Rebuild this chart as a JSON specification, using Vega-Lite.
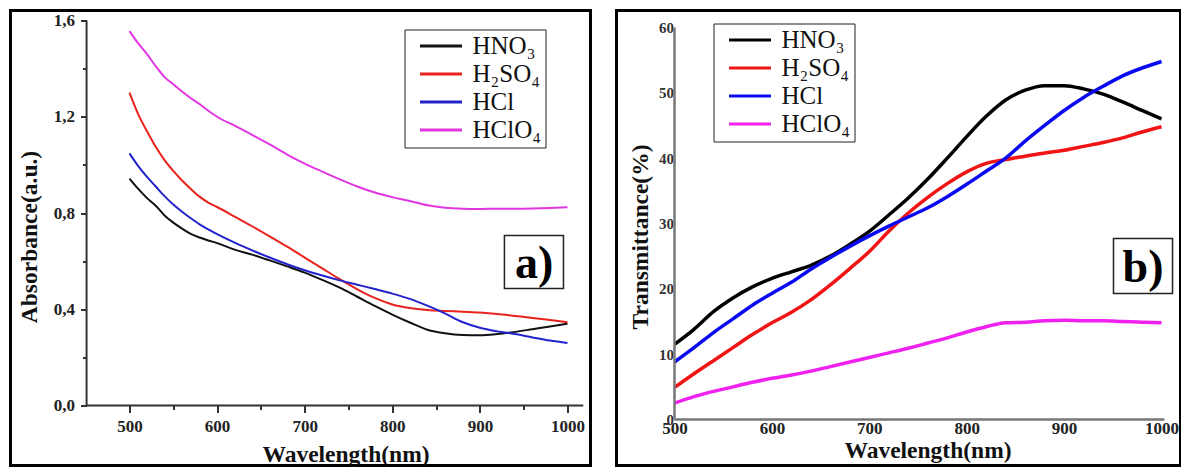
{
  "$schema": "https://vega.github.io/schema/vega-lite/v6.json",
  "padding": {"left": 8.5, "top": 8.5, "right": 0, "bottom": 0},
  "spacing": 22,
  "config": {
    "view": {"stroke": "#000000", "strokeWidth": 3},
    "font": "Liberation Serif",
    "axis": {"domain": false, "grid": false, "labelFont": "Liberation Serif", "labelFontWeight": "bold", "titleFont": "Liberation Serif", "titleFontWeight": "bold", "titleFontSize": 23.5, "titleColor": "#111111", "tickColor": "#333333", "tickWidth": 2},
    "legend": {"orient": "none", "title": null, "symbolType": "M-2,0H2", "symbolSize": 441, "symbolStrokeWidth": 3, "symbolFillColor": "transparent", "labelFontSize": 25, "labelFont": "Liberation Serif", "labelColor": "#111111", "rowPadding": 2, "labelOffset": 19, "padding": 4, "symbolOffset": 20, "strokeColor": "#222222", "fillColor": "white", "labelLimit": 300}
  },
  "datasets": {
    "abs": [
      {"acid": "HNO₃", "wl": 500, "v": 0.943}, {"acid": "HNO₃", "wl": 510, "v": 0.9}, {"acid": "HNO₃", "wl": 520, "v": 0.862}, {"acid": "HNO₃", "wl": 530, "v": 0.83}, {"acid": "HNO₃", "wl": 540, "v": 0.79}, {"acid": "HNO₃", "wl": 550, "v": 0.76}, {"acid": "HNO₃", "wl": 560, "v": 0.735}, {"acid": "HNO₃", "wl": 570, "v": 0.713}, {"acid": "HNO₃", "wl": 580, "v": 0.698}, {"acid": "HNO₃", "wl": 590, "v": 0.686}, {"acid": "HNO₃", "wl": 600, "v": 0.675}, {"acid": "HNO₃", "wl": 620, "v": 0.648}, {"acid": "HNO₃", "wl": 640, "v": 0.627}, {"acid": "HNO₃", "wl": 660, "v": 0.603}, {"acid": "HNO₃", "wl": 680, "v": 0.578}, {"acid": "HNO₃", "wl": 700, "v": 0.552}, {"acid": "HNO₃", "wl": 720, "v": 0.522}, {"acid": "HNO₃", "wl": 740, "v": 0.49}, {"acid": "HNO₃", "wl": 760, "v": 0.452}, {"acid": "HNO₃", "wl": 780, "v": 0.414}, {"acid": "HNO₃", "wl": 800, "v": 0.378}, {"acid": "HNO₃", "wl": 820, "v": 0.345}, {"acid": "HNO₃", "wl": 840, "v": 0.315}, {"acid": "HNO₃", "wl": 860, "v": 0.3}, {"acid": "HNO₃", "wl": 880, "v": 0.293}, {"acid": "HNO₃", "wl": 900, "v": 0.292}, {"acid": "HNO₃", "wl": 920, "v": 0.297}, {"acid": "HNO₃", "wl": 940, "v": 0.306}, {"acid": "HNO₃", "wl": 960, "v": 0.317}, {"acid": "HNO₃", "wl": 980, "v": 0.328}, {"acid": "HNO₃", "wl": 1000, "v": 0.34},
      {"acid": "H₂SO₄", "wl": 500, "v": 1.3}, {"acid": "H₂SO₄", "wl": 510, "v": 1.21}, {"acid": "H₂SO₄", "wl": 520, "v": 1.14}, {"acid": "H₂SO₄", "wl": 530, "v": 1.075}, {"acid": "H₂SO₄", "wl": 540, "v": 1.02}, {"acid": "H₂SO₄", "wl": 550, "v": 0.975}, {"acid": "H₂SO₄", "wl": 560, "v": 0.935}, {"acid": "H₂SO₄", "wl": 570, "v": 0.9}, {"acid": "H₂SO₄", "wl": 580, "v": 0.868}, {"acid": "H₂SO₄", "wl": 590, "v": 0.843}, {"acid": "H₂SO₄", "wl": 600, "v": 0.825}, {"acid": "H₂SO₄", "wl": 620, "v": 0.785}, {"acid": "H₂SO₄", "wl": 640, "v": 0.745}, {"acid": "H₂SO₄", "wl": 660, "v": 0.703}, {"acid": "H₂SO₄", "wl": 680, "v": 0.66}, {"acid": "H₂SO₄", "wl": 700, "v": 0.615}, {"acid": "H₂SO₄", "wl": 720, "v": 0.57}, {"acid": "H₂SO₄", "wl": 740, "v": 0.525}, {"acid": "H₂SO₄", "wl": 760, "v": 0.483}, {"acid": "H₂SO₄", "wl": 780, "v": 0.447}, {"acid": "H₂SO₄", "wl": 800, "v": 0.42}, {"acid": "H₂SO₄", "wl": 820, "v": 0.405}, {"acid": "H₂SO₄", "wl": 840, "v": 0.397}, {"acid": "H₂SO₄", "wl": 860, "v": 0.393}, {"acid": "H₂SO₄", "wl": 880, "v": 0.39}, {"acid": "H₂SO₄", "wl": 900, "v": 0.386}, {"acid": "H₂SO₄", "wl": 920, "v": 0.38}, {"acid": "H₂SO₄", "wl": 940, "v": 0.372}, {"acid": "H₂SO₄", "wl": 960, "v": 0.364}, {"acid": "H₂SO₄", "wl": 980, "v": 0.355}, {"acid": "H₂SO₄", "wl": 1000, "v": 0.346},
      {"acid": "HCl", "wl": 500, "v": 1.048}, {"acid": "HCl", "wl": 510, "v": 0.995}, {"acid": "HCl", "wl": 520, "v": 0.95}, {"acid": "HCl", "wl": 530, "v": 0.91}, {"acid": "HCl", "wl": 540, "v": 0.87}, {"acid": "HCl", "wl": 550, "v": 0.835}, {"acid": "HCl", "wl": 560, "v": 0.805}, {"acid": "HCl", "wl": 570, "v": 0.778}, {"acid": "HCl", "wl": 580, "v": 0.753}, {"acid": "HCl", "wl": 590, "v": 0.732}, {"acid": "HCl", "wl": 600, "v": 0.712}, {"acid": "HCl", "wl": 620, "v": 0.677}, {"acid": "HCl", "wl": 640, "v": 0.645}, {"acid": "HCl", "wl": 660, "v": 0.615}, {"acid": "HCl", "wl": 680, "v": 0.587}, {"acid": "HCl", "wl": 700, "v": 0.562}, {"acid": "HCl", "wl": 720, "v": 0.54}, {"acid": "HCl", "wl": 740, "v": 0.52}, {"acid": "HCl", "wl": 760, "v": 0.502}, {"acid": "HCl", "wl": 780, "v": 0.484}, {"acid": "HCl", "wl": 800, "v": 0.465}, {"acid": "HCl", "wl": 820, "v": 0.443}, {"acid": "HCl", "wl": 840, "v": 0.415}, {"acid": "HCl", "wl": 860, "v": 0.383}, {"acid": "HCl", "wl": 880, "v": 0.347}, {"acid": "HCl", "wl": 900, "v": 0.323}, {"acid": "HCl", "wl": 920, "v": 0.308}, {"acid": "HCl", "wl": 940, "v": 0.297}, {"acid": "HCl", "wl": 960, "v": 0.283}, {"acid": "HCl", "wl": 980, "v": 0.27}, {"acid": "HCl", "wl": 1000, "v": 0.26},
      {"acid": "HClO₄", "wl": 500, "v": 1.556}, {"acid": "HClO₄", "wl": 510, "v": 1.505}, {"acid": "HClO₄", "wl": 520, "v": 1.46}, {"acid": "HClO₄", "wl": 530, "v": 1.41}, {"acid": "HClO₄", "wl": 540, "v": 1.365}, {"acid": "HClO₄", "wl": 550, "v": 1.335}, {"acid": "HClO₄", "wl": 560, "v": 1.305}, {"acid": "HClO₄", "wl": 570, "v": 1.277}, {"acid": "HClO₄", "wl": 580, "v": 1.253}, {"acid": "HClO₄", "wl": 590, "v": 1.225}, {"acid": "HClO₄", "wl": 600, "v": 1.2}, {"acid": "HClO₄", "wl": 620, "v": 1.163}, {"acid": "HClO₄", "wl": 640, "v": 1.125}, {"acid": "HClO₄", "wl": 660, "v": 1.085}, {"acid": "HClO₄", "wl": 680, "v": 1.043}, {"acid": "HClO₄", "wl": 700, "v": 1.005}, {"acid": "HClO₄", "wl": 720, "v": 0.972}, {"acid": "HClO₄", "wl": 740, "v": 0.94}, {"acid": "HClO₄", "wl": 760, "v": 0.91}, {"acid": "HClO₄", "wl": 780, "v": 0.885}, {"acid": "HClO₄", "wl": 800, "v": 0.866}, {"acid": "HClO₄", "wl": 820, "v": 0.85}, {"acid": "HClO₄", "wl": 840, "v": 0.832}, {"acid": "HClO₄", "wl": 860, "v": 0.822}, {"acid": "HClO₄", "wl": 880, "v": 0.818}, {"acid": "HClO₄", "wl": 900, "v": 0.817}, {"acid": "HClO₄", "wl": 920, "v": 0.818}, {"acid": "HClO₄", "wl": 940, "v": 0.818}, {"acid": "HClO₄", "wl": 960, "v": 0.819}, {"acid": "HClO₄", "wl": 980, "v": 0.821}, {"acid": "HClO₄", "wl": 1000, "v": 0.824}
    ],
    "trans": [
      {"acid": "HNO₃", "wl": 500, "v": 11.5}, {"acid": "HNO₃", "wl": 520, "v": 13.8}, {"acid": "HNO₃", "wl": 540, "v": 16.5}, {"acid": "HNO₃", "wl": 560, "v": 18.6}, {"acid": "HNO₃", "wl": 580, "v": 20.3}, {"acid": "HNO₃", "wl": 600, "v": 21.6}, {"acid": "HNO₃", "wl": 620, "v": 22.6}, {"acid": "HNO₃", "wl": 640, "v": 23.6}, {"acid": "HNO₃", "wl": 660, "v": 25.0}, {"acid": "HNO₃", "wl": 680, "v": 26.8}, {"acid": "HNO₃", "wl": 700, "v": 28.8}, {"acid": "HNO₃", "wl": 720, "v": 31.3}, {"acid": "HNO₃", "wl": 740, "v": 33.9}, {"acid": "HNO₃", "wl": 760, "v": 36.8}, {"acid": "HNO₃", "wl": 780, "v": 40.0}, {"acid": "HNO₃", "wl": 800, "v": 43.3}, {"acid": "HNO₃", "wl": 820, "v": 46.4}, {"acid": "HNO₃", "wl": 840, "v": 48.9}, {"acid": "HNO₃", "wl": 860, "v": 50.4}, {"acid": "HNO₃", "wl": 880, "v": 51.1}, {"acid": "HNO₃", "wl": 900, "v": 51.1}, {"acid": "HNO₃", "wl": 920, "v": 50.6}, {"acid": "HNO₃", "wl": 940, "v": 49.8}, {"acid": "HNO₃", "wl": 960, "v": 48.6}, {"acid": "HNO₃", "wl": 980, "v": 47.3}, {"acid": "HNO₃", "wl": 1000, "v": 46.0},
      {"acid": "H₂SO₄", "wl": 500, "v": 4.9}, {"acid": "H₂SO₄", "wl": 520, "v": 7.0}, {"acid": "H₂SO₄", "wl": 540, "v": 9.0}, {"acid": "H₂SO₄", "wl": 560, "v": 11.0}, {"acid": "H₂SO₄", "wl": 580, "v": 13.0}, {"acid": "H₂SO₄", "wl": 600, "v": 14.8}, {"acid": "H₂SO₄", "wl": 620, "v": 16.4}, {"acid": "H₂SO₄", "wl": 640, "v": 18.3}, {"acid": "H₂SO₄", "wl": 660, "v": 20.6}, {"acid": "H₂SO₄", "wl": 680, "v": 23.1}, {"acid": "H₂SO₄", "wl": 700, "v": 25.7}, {"acid": "H₂SO₄", "wl": 720, "v": 28.8}, {"acid": "H₂SO₄", "wl": 740, "v": 31.6}, {"acid": "H₂SO₄", "wl": 760, "v": 34.0}, {"acid": "H₂SO₄", "wl": 780, "v": 36.1}, {"acid": "H₂SO₄", "wl": 800, "v": 37.9}, {"acid": "H₂SO₄", "wl": 820, "v": 39.2}, {"acid": "H₂SO₄", "wl": 840, "v": 39.8}, {"acid": "H₂SO₄", "wl": 860, "v": 40.3}, {"acid": "H₂SO₄", "wl": 880, "v": 40.8}, {"acid": "H₂SO₄", "wl": 900, "v": 41.2}, {"acid": "H₂SO₄", "wl": 920, "v": 41.8}, {"acid": "H₂SO₄", "wl": 940, "v": 42.4}, {"acid": "H₂SO₄", "wl": 960, "v": 43.1}, {"acid": "H₂SO₄", "wl": 980, "v": 44.0}, {"acid": "H₂SO₄", "wl": 1000, "v": 44.8},
      {"acid": "HCl", "wl": 500, "v": 8.8}, {"acid": "HCl", "wl": 520, "v": 11.0}, {"acid": "HCl", "wl": 540, "v": 13.3}, {"acid": "HCl", "wl": 560, "v": 15.4}, {"acid": "HCl", "wl": 580, "v": 17.5}, {"acid": "HCl", "wl": 600, "v": 19.3}, {"acid": "HCl", "wl": 620, "v": 21.0}, {"acid": "HCl", "wl": 640, "v": 23.0}, {"acid": "HCl", "wl": 660, "v": 24.8}, {"acid": "HCl", "wl": 680, "v": 26.5}, {"acid": "HCl", "wl": 700, "v": 28.1}, {"acid": "HCl", "wl": 720, "v": 29.6}, {"acid": "HCl", "wl": 740, "v": 31.0}, {"acid": "HCl", "wl": 760, "v": 32.4}, {"acid": "HCl", "wl": 780, "v": 34.1}, {"acid": "HCl", "wl": 800, "v": 36.0}, {"acid": "HCl", "wl": 820, "v": 38.0}, {"acid": "HCl", "wl": 840, "v": 40.0}, {"acid": "HCl", "wl": 860, "v": 42.6}, {"acid": "HCl", "wl": 880, "v": 45.0}, {"acid": "HCl", "wl": 900, "v": 47.3}, {"acid": "HCl", "wl": 920, "v": 49.3}, {"acid": "HCl", "wl": 940, "v": 51.0}, {"acid": "HCl", "wl": 960, "v": 52.6}, {"acid": "HCl", "wl": 980, "v": 53.8}, {"acid": "HCl", "wl": 1000, "v": 54.8},
      {"acid": "HClO₄", "wl": 500, "v": 2.5}, {"acid": "HClO₄", "wl": 520, "v": 3.5}, {"acid": "HClO₄", "wl": 540, "v": 4.3}, {"acid": "HClO₄", "wl": 560, "v": 5.0}, {"acid": "HClO₄", "wl": 580, "v": 5.7}, {"acid": "HClO₄", "wl": 600, "v": 6.3}, {"acid": "HClO₄", "wl": 620, "v": 6.8}, {"acid": "HClO₄", "wl": 640, "v": 7.4}, {"acid": "HClO₄", "wl": 660, "v": 8.1}, {"acid": "HClO₄", "wl": 680, "v": 8.8}, {"acid": "HClO₄", "wl": 700, "v": 9.5}, {"acid": "HClO₄", "wl": 720, "v": 10.2}, {"acid": "HClO₄", "wl": 740, "v": 10.9}, {"acid": "HClO₄", "wl": 760, "v": 11.7}, {"acid": "HClO₄", "wl": 780, "v": 12.5}, {"acid": "HClO₄", "wl": 800, "v": 13.4}, {"acid": "HClO₄", "wl": 820, "v": 14.2}, {"acid": "HClO₄", "wl": 840, "v": 14.8}, {"acid": "HClO₄", "wl": 860, "v": 14.9}, {"acid": "HClO₄", "wl": 880, "v": 15.1}, {"acid": "HClO₄", "wl": 900, "v": 15.2}, {"acid": "HClO₄", "wl": 920, "v": 15.1}, {"acid": "HClO₄", "wl": 940, "v": 15.1}, {"acid": "HClO₄", "wl": 960, "v": 15.0}, {"acid": "HClO₄", "wl": 980, "v": 14.9}, {"acid": "HClO₄", "wl": 1000, "v": 14.8}
    ]
  },
  "hconcat": [
    {
      "width": 580,
      "height": 455,
      "layer": [
        {
          "data": {"name": "abs"},
          "mark": {"type": "line", "strokeWidth": 2, "interpolate": "monotone"},
          "encoding": {
            "x": {"field": "wl", "type": "quantitative", "scale": {"domain": [364.16, 1026.26], "nice": false, "zero": false},
              "axis": {"orient": "bottom", "offset": -60, "values": [500, 550, 600, 650, 700, 750, 800, 850, 900, 950, 1000], "labelExpr": "datum.value % 100 === 0 ? format(datum.value, 'd') : ''", "tickSize": {"condition": {"test": "datum.value % 100 === 0", "value": 7}, "value": 4}, "labelFontSize": 17, "labelPadding": 6, "labelColor": "#222222", "title": "Wavelength(nm)", "titleX": 335, "titleY": 49, "titleAlign": "center", "titleBaseline": "middle"}},
            "y": {"field": "v", "type": "quantitative", "scale": {"domain": [-0.2494, 1.6417], "nice": false, "zero": false},
              "axis": {"orient": "left", "offset": -76, "values": [0, 0.2, 0.4, 0.6, 0.8, 1, 1.2, 1.4, 1.6], "labelExpr": "round(datum.value * 10) % 4 === 0 ? replace(format(datum.value, '.1f'), '.', ',') : ''", "tickSize": {"condition": {"test": "round(datum.value * 10) % 4 === 0", "value": 6}, "value": 4}, "labelFontSize": 17, "labelPadding": 6, "labelColor": "#222222", "title": "Absorbance(a.u.)", "titleX": -57, "titleY": 226, "titleAngle": -90, "titleAlign": "center", "titleBaseline": "middle"}},
            "color": {"field": "acid", "type": "nominal", "scale": {"domain": ["HNO₃", "H₂SO₄", "HCl", "HClO₄"], "range": ["#111111", "#e8231d", "#2323cc", "#e236e2"]},
              "legend": {"orient": "none", "legendX": 394, "legendY": 19}}
          }
        },
        {"data": {"values": [{}]}, "mark": {"type": "rule", "color": "#333333", "strokeWidth": 2}, "encoding": {"x": {"datum": 451}, "x2": {"datum": 1018}, "y": {"datum": 0}}},
        {"data": {"values": [{}]}, "mark": {"type": "rule", "color": "#333333", "strokeWidth": 2}, "encoding": {"x": {"datum": 451}, "y": {"datum": 0}, "y2": {"datum": 1.6}}},
        {"data": {"values": [{}]}, "mark": {"type": "rect", "fill": "white", "stroke": "#222222", "strokeWidth": 1.5}, "encoding": {"x": {"datum": 928}, "x2": {"datum": 995.4}, "y": {"datum": 0.486}, "y2": {"datum": 0.7066}}},
        {"data": {"values": [{}]}, "mark": {"type": "text", "text": "a)", "font": "Liberation Serif", "fontWeight": "bold", "fontSize": 46, "align": "center", "baseline": "middle", "color": "#000000"}, "encoding": {"x": {"datum": 961.8}, "y": {"datum": 0.588}}}
      ]
    },
    {
      "width": 564,
      "height": 455,
      "layer": [
        {
          "data": {"name": "trans"},
          "mark": {"type": "line", "strokeWidth": 3.5, "interpolate": "monotone"},
          "encoding": {
            "x": {"field": "wl", "type": "quantitative", "scale": {"domain": [440.45, 1019.5], "nice": false, "zero": false},
              "axis": {"orient": "bottom", "offset": -46, "values": [500, 600, 700, 800, 900, 1000], "format": "d", "ticks": false, "labelFontSize": 17, "labelPadding": 1, "labelColor": "#222222", "title": "Wavelength(nm)", "titleX": 311, "titleY": 31, "titleAlign": "center", "titleBaseline": "middle"}},
            "y": {"field": "v", "type": "quantitative", "scale": {"domain": [-7.04, 62.6], "nice": false, "zero": false},
              "axis": {"orient": "left", "offset": -58, "values": [0, 10, 20, 30, 40, 50, 60], "format": "d", "ticks": false, "labelFontSize": 15, "labelPadding": 1, "labelColor": "#333333", "title": "Transmittance(%)", "titleX": -34, "titleY": 226, "titleAngle": -90, "titleAlign": "center", "titleBaseline": "middle"}},
            "color": {"field": "acid", "type": "nominal", "scale": {"domain": ["HNO₃", "H₂SO₄", "HCl", "HClO₄"], "range": ["#000000", "#f01414", "#0a0af0", "#f020f0"]},
              "legend": {"orient": "none", "legendX": 97, "legendY": 13}}
          }
        },
        {"data": {"values": [{}]}, "mark": {"type": "rule", "color": "#777777", "strokeWidth": 2.5}, "encoding": {"x": {"datum": 500}, "x2": {"datum": 1003}, "y": {"datum": 0}}},
        {"data": {"values": [{}]}, "mark": {"type": "rule", "color": "#777777", "strokeWidth": 2.5}, "encoding": {"x": {"datum": 500}, "y": {"datum": 0}, "y2": {"datum": 60}}},
        {"data": {"values": [{}]}, "mark": {"type": "rect", "fill": "white", "stroke": "#222222", "strokeWidth": 1.5}, "encoding": {"x": {"datum": 950.7}, "x2": {"datum": 1011.3}, "y": {"datum": 19.3}, "y2": {"datum": 27.7}}},
        {"data": {"values": [{}]}, "mark": {"type": "text", "text": "b)", "font": "Liberation Serif", "fontWeight": "bold", "fontSize": 46, "align": "center", "baseline": "middle", "color": "#000000"}, "encoding": {"x": {"datum": 981}, "y": {"datum": 23.2}}}
      ]
    }
  ],
  "resolve": {"scale": {"color": "independent"}, "legend": {"color": "independent"}}
}
